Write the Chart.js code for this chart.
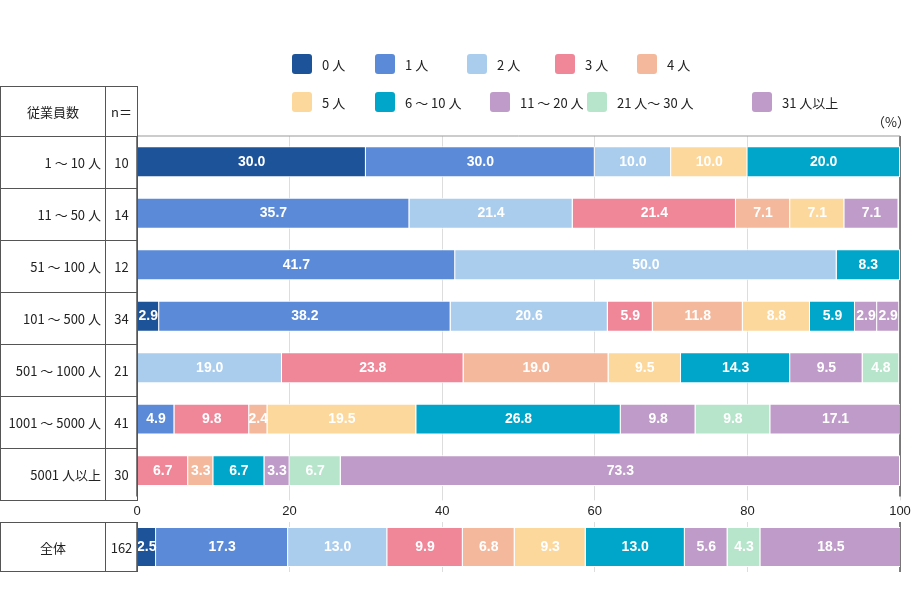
<!DOCTYPE html>
<html><head><meta charset="utf-8">
<script src="https://cdn.jsdelivr.net/npm/chart.js@4"></script>
<style>
body{margin:0;background:#fff;font-family:"Noto Sans CJK JP","Noto Sans",sans-serif;}
#wrap{position:relative;width:915px;height:601px;}
canvas{position:absolute;left:0;top:0;}
.c{position:absolute;border:1px solid #555;box-sizing:border-box;font-size:13px;color:#222;display:flex;align-items:center;}
.lg{position:absolute;font-size:13px;color:#222;display:flex;align-items:center;}
.lg i{display:inline-block;width:20px;height:20px;border-radius:3px;margin-right:10px;}
</style></head><body>
<div id="wrap">
<canvas id="main" width="915" height="601"></canvas>
<canvas id="tot" width="915" height="601"></canvas>
</div>
<script>
const categories=["1 ～ 10 人","11 ～ 50 人","51 ～ 100 人","101 ～ 500 人","501 ～ 1000 人","1001 ～ 5000 人","5001 人以上"];
const nValues=[10,14,12,34,21,41,30];
const seriesNames=["0 人","1 人","2 人","3 人","4 人","5 人","6 ～ 10 人","11 ～ 20 人","21 人～ 30 人","31 人以上"];
const colors=["#1D5399","#5B8BD8","#AACDEE","#EF8799","#F4B99C","#FCD89C","#00A6C9","#BF9BC9","#B7E5CB","#BF9BC9"];
const s0=[30.0,0,0,2.9,0,0,0];
const s1=[30.0,35.7,41.7,38.2,0,4.9,0];
const s2=[10.0,21.4,50.0,20.6,19.0,0,0];
const s3=[0,21.4,0,5.9,23.8,9.8,6.7];
const s4=[0,7.1,0,11.8,19.0,2.4,3.3];
const s5=[10.0,7.1,0,8.8,9.5,19.5,0];
const s6=[20.0,0,8.3,5.9,14.3,26.8,6.7];
const s7=[0,7.1,0,2.9,9.5,9.8,3.3];
const s8=[0,0,0,0,4.8,9.8,6.7];
const s9=[0,0,0,2.9,0,17.1,73.3];
const totalLabel="全体", totalN=162;
const totalValues=[2.5,17.3,13.0,9.9,6.8,9.3,13.0,5.6,4.3,18.5];
const xTicks=[0,20,40,60,80,100];
const series=[s0,s1,s2,s3,s4,s5,s6,s7,s8,s9];

const wrap=document.getElementById('wrap');
function box(x,y,w,h,t,just){const d=document.createElement('div');d.className='c';d.style.cssText+=`left:${x}px;top:${y}px;width:${w}px;height:${h}px;justify-content:${just};padding:0 4px;`;d.textContent=t;wrap.appendChild(d);}
box(0,86,106,51,"従業員数","center");box(105,86,33,51,"n＝","center");
categories.forEach((c,i)=>{const y=136+i*52;box(0,y,106,53,c,"flex-end");box(105,y,33,53,String(nValues[i]),"center");});
box(0,522,106,50,totalLabel,"center");box(105,522,33,50,String(totalN),"center");
const lx=[292,375,467,555,637,292,375,490,587,752];
seriesNames.forEach((n,i)=>{const d=document.createElement('div');d.className='lg';d.style.left=lx[i]+'px';d.style.top=(i<5?54:92)+'px';d.innerHTML=`<i style="background:${colors[i]}"></i>${n}`;wrap.appendChild(d);});
const pct=document.createElement('div');pct.className='lg';pct.style.cssText+='left:872px;top:112px;';pct.textContent='（%）';wrap.appendChild(pct);

const labelPlugin={id:'lbl',afterDatasetsDraw(ch){const c=ch.ctx;c.save();c.fillStyle='#fff';c.font='bold 14px "Liberation Sans",Arial,sans-serif';c.textAlign='center';c.textBaseline='middle';
ch.data.datasets.forEach((ds,di)=>{ch.getDatasetMeta(di).data.forEach((el,j)=>{const v=ds.data[j];if(!v)return;c.fillText(v.toFixed(1),(el.x+el.base)/2,el.y);});});c.restore();}};
const frame={id:'frame',beforeDatasetsDraw(ch){const a=ch.chartArea,c=ch.ctx;c.save();c.strokeStyle='#555';c.lineWidth=1.5;c.beginPath();c.moveTo(a.left,a.top);c.lineTo(a.left,a.bottom);c.moveTo(a.right,a.top);c.lineTo(a.right,a.bottom);c.stroke();
if(ch.canvas.id==='main'){c.strokeStyle='#999';c.lineWidth=1;c.beginPath();c.moveTo(a.left,a.top);c.lineTo(a.right,a.top);c.stroke();}c.restore();}};
function opts(padTop,padBottom,showTicks){return{responsive:false,animation:false,indexAxis:'y',
layout:{padding:{left:137,right:15,top:padTop,bottom:padBottom}},
plugins:{legend:{display:false},tooltip:{enabled:false}},
scales:{x:{stacked:true,min:0,max:100,ticks:{display:showTicks,stepSize:20,color:'#222',font:{size:13,family:'"Liberation Sans",Arial'},callback:v=>xTicks.includes(v)?v:''},
grid:{color:'#ddd',drawTicks:showTicks,tickLength:4},border:{display:false}},
y:{stacked:true,display:false}}};}
const dsets=series.map((d,i)=>({label:seriesNames[i],data:d,backgroundColor:colors[i],borderColor:'#fff',borderWidth:1,barPercentage:0.6,categoryPercentage:1}));
new Chart(document.getElementById('main'),{type:'bar',data:{labels:categories,datasets:dsets},options:opts(136,79,true),plugins:[labelPlugin,frame]});
new Chart(document.getElementById('tot'),{type:'bar',data:{labels:[totalLabel],datasets:totalValues.map((v,i)=>({label:seriesNames[i],data:[v],backgroundColor:colors[i],borderColor:'#fff',borderWidth:1,barPercentage:0.8,categoryPercentage:1}))},options:opts(522,29,false),plugins:[labelPlugin,frame]});
</script></body></html>
